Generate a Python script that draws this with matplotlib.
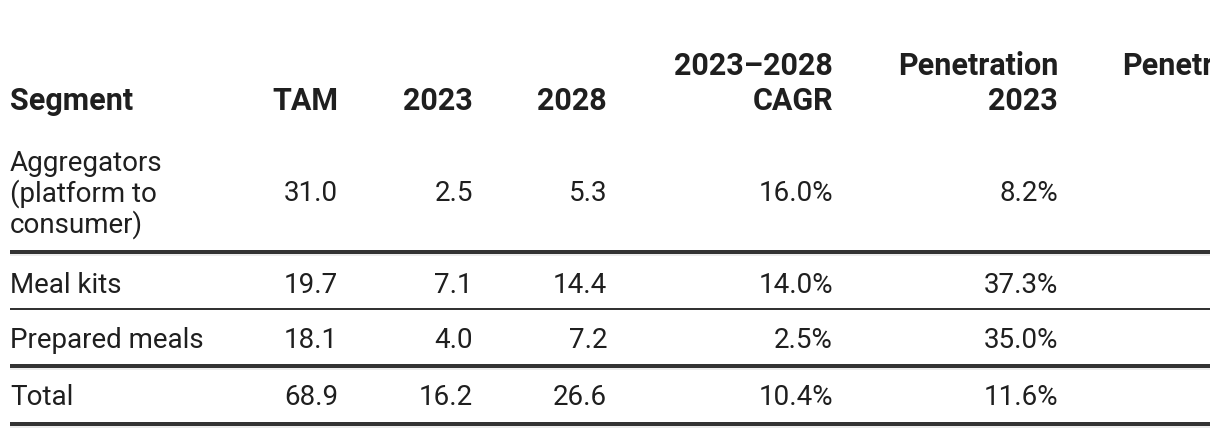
import matplotlib.pyplot as plt

plt.rcParams['font.family'] = ['Roboto', 'DejaVu Sans']

# table content
headers = ["Segment", "TAM", "2023", "2028", "2023\u20132028\nCAGR", "Penetration\n2023", "Penetration\n2028"]
segments = ["Aggregators\n(platform to\nconsumer)", "Meal kits", "Prepared meals", "Total"]
tam = [31.0, 19.7, 18.1, 68.9]
val_2023 = [2.5, 7.1, 4.0, 16.2]
val_2028 = [5.3, 14.4, 7.2, 26.6]
cagr = [16.0, 14.0, 2.5, 10.4]
pen_2023 = [8.2, 37.3, 35.0, 11.6]

W, H = 1220, 436
fig = plt.figure(figsize=(W / 100, H / 100), dpi=100)
ax = fig.add_axes([0, 0, 1210 / W, 1])
ax.set_xlim(0, 1210)
ax.set_ylim(H, 0)
ax.axis('off')

txt = '#1f1f1f'
fs_body = 20
fs_head = 22
px = 72 / 100  # points per pixel
pitch = 31.5   # body line pitch in pixels

# column anchors (x, alignment); last column runs off the right edge
cols = [(10, 'left'), (338, 'right'), (473, 'right'), (607, 'right'),
        (833, 'right'), (1058, 'right'), (1282, 'right')]

# header, last line on baseline ~110
for (x, ha), h in zip(cols, headers):
    ax.text(x, 110, h, ha=ha, va='baseline', fontsize=fs_head, fontweight='bold',
            color=txt, linespacing=1.22, multialignment=ha, clip_on=True)

row_base = [201, 293, 348, 405]
rules = [(252, 4), (309, 2), (366, 4), (424, 4)]

for i, y in enumerate(row_base):
    n = segments[i].count('\n') + 1
    ax.text(cols[0][0], y + (n - 1) / 2 * pitch, segments[i], ha='left', va='baseline',
            fontsize=fs_body, color=txt, linespacing=1.09)
    cells = [f"{tam[i]:.1f}", f"{val_2023[i]:.1f}", f"{val_2028[i]:.1f}",
             f"{cagr[i]:.1f}%", f"{pen_2023[i]:.1f}%"]
    for (x, ha), c in zip(cols[1:], cells):
        ax.text(x, y, c, ha=ha, va='baseline', fontsize=fs_body, color=txt)

for y, w in rules:
    if w > 2:
        ax.plot([10, 1210], [y + w / 2 + 1, y + w / 2 + 1], color='#ececec',
                lw=2 * px, solid_capstyle='butt')
    ax.plot([10, 1210], [y, y], color='#333333', lw=w * px, solid_capstyle='butt')

fig.savefig('out.png', dpi=100, facecolor='white')
